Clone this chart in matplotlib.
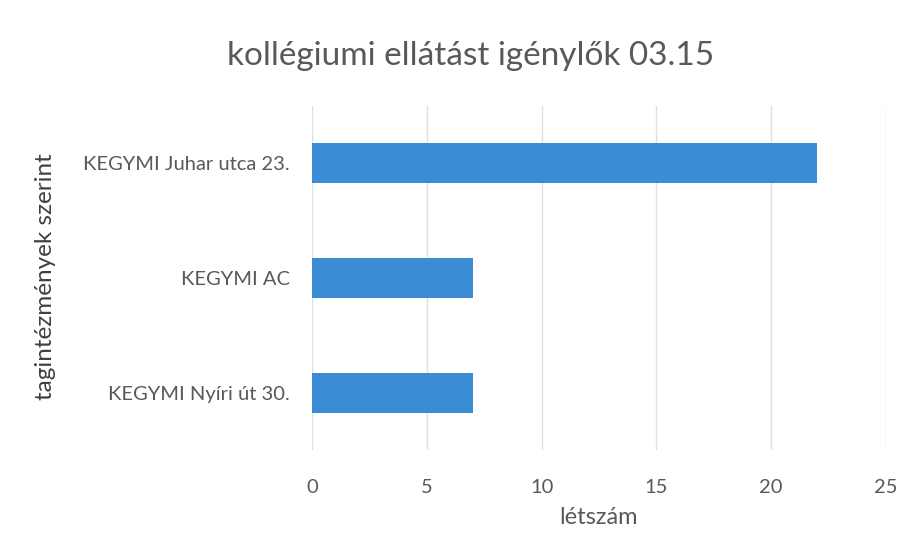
import matplotlib.pyplot as plt

categories = ['KEGYMI Nyíri út 30.', 'KEGYMI AC', 'KEGYMI Juhar utca 23.']
values = [7, 7, 22]
xticks = [0, 5, 10, 15, 20, 25]

plt.rcParams['font.family'] = ['Lato', 'DejaVu Sans']
text_col = '#595959'

fig = plt.figure(figsize=(9.13, 5.56), dpi=100)
ax = fig.add_axes([0.3417, 0.1906, 0.6287, 0.6188])

ax.barh(categories, values, height=0.35, color='#3a8dd4', zorder=3)
ax.set_xlim(0, 25)
ax.set_ylim(-0.5, 2.5)
ax.set_xticks(xticks)
ax.grid(axis='x', color='#e0e0e0', linewidth=1, zorder=0)
for s in ax.spines.values():
    s.set_visible(False)
ax.tick_params(length=0, colors=text_col, labelsize=14.5)
ax.tick_params(axis='x', pad=21)
ax.tick_params(axis='y', pad=16)
for lab in ax.get_yticklabels():
    lab.set_fontsize(14.5)

ax.set_xlabel('létszám', fontsize=17, color=text_col, labelpad=8)
fig.text(0.050, 0.503, 'tagintézmények szerint', rotation=90, fontsize=17.5,
         color='#404040', ha='center', va='center')
fig.text(0.515, 0.90, 'kollégiumi ellátást igénylők 03.15', fontsize=24,
         color=text_col, ha='center', va='center')

fig.savefig('out.png', dpi=100)
